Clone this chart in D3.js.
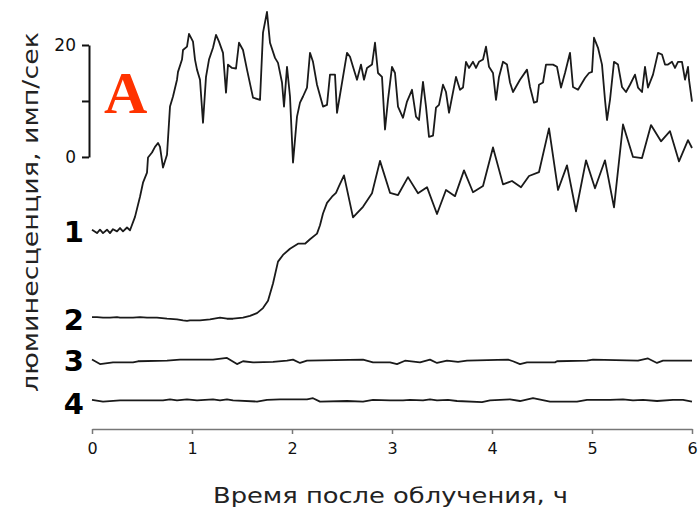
<!DOCTYPE html>
<html>
<head>
<meta charset="utf-8">
<script src="https://cdn.jsdelivr.net/npm/d3@7"></script>
<style>
  body { margin: 0; background: #fff; }
  text { font-family: "DejaVu Sans", Verdana, sans-serif; }
</style>
</head>
<body>
<script>
// Traces: [time (h), luminescence above own baseline (imp/s)]
const trace1 = [
  [0, 0], [0.05, -0.6], [0.08, 0], [0.11, -0.6], [0.15, 0], [0.18, -0.6], [0.21, 0.1],
  [0.25, -0.3], [0.28, 0.3], [0.31, -0.3], [0.35, 0.4], [0.38, -0.1], [0.43, 2.3],
  [0.48, 5.9], [0.51, 8.4], [0.55, 10.2], [0.56, 12.9], [0.6, 13.8], [0.63, 14.8],
  [0.66, 15.5], [0.68, 14.8], [0.71, 11.1], [0.75, 13.4], [0.78, 22.0], [0.81, 23.8],
  [0.85, 26.8], [0.86, 28.2], [0.9, 30.4], [0.91, 32.1], [0.95, 32.7], [0.97, 35.0],
  [1.01, 33.6], [1.03, 30.4], [1.05, 28.6], [1.08, 26.8], [1.11, 19.1], [1.14, 27.3],
  [1.17, 30.4], [1.21, 32.5], [1.24, 34.8], [1.27, 33.6], [1.31, 31.6], [1.34, 24.5],
  [1.36, 29.5], [1.4, 28.9], [1.44, 28.8], [1.47, 33.4], [1.51, 32.1], [1.55, 28.6],
  [1.61, 23.6], [1.68, 23.2], [1.71, 35.2], [1.75, 38.9], [1.78, 33.4], [1.83, 30.7],
  [1.86, 29.8], [1.9, 26.3], [1.92, 22.0], [1.95, 29.1], [1.98, 23.8], [2.01, 12.0],
  [2.05, 20.2], [2.08, 22.7], [2.11, 23.8], [2.15, 25.4], [2.18, 31.6], [2.21, 30.0],
  [2.25, 25.9], [2.31, 22.0], [2.35, 22.3], [2.38, 27.7], [2.43, 27.7], [2.45, 20.9],
  [2.55, 31.6], [2.58, 30.9], [2.61, 29.1], [2.65, 26.8], [2.69, 29.5], [2.72, 26.8],
  [2.75, 28.9], [2.8, 29.5], [2.83, 33.4], [2.86, 28.0], [2.9, 27.3], [2.93, 17.9],
  [2.96, 23.2], [3.0, 29.1], [3.03, 28.0], [3.06, 22.0], [3.11, 20.0], [3.15, 22.9],
  [3.2, 25.0], [3.24, 20.2], [3.27, 19.6], [3.31, 26.4], [3.34, 22.0], [3.37, 16.6],
  [3.41, 16.8], [3.44, 21.8], [3.47, 22.3], [3.51, 25.9], [3.54, 24.6], [3.57, 20.9],
  [3.64, 27.3], [3.68, 25.0], [3.71, 25.4], [3.74, 30.0], [3.77, 28.9], [3.81, 30.0],
  [3.84, 28.9], [3.87, 30.0], [3.91, 30.4], [3.94, 32.7], [3.97, 29.1], [4.01, 28.0],
  [4.04, 23.2], [4.07, 27.3], [4.11, 30.0], [4.15, 29.5], [4.18, 26.3], [4.21, 24.6],
  [4.28, 26.8], [4.35, 28.6], [4.38, 25.5], [4.42, 22.7], [4.45, 22.9], [4.47, 25.9],
  [4.51, 26.3], [4.54, 29.5], [4.61, 29.5], [4.65, 29.1], [4.69, 25.4], [4.73, 28.0],
  [4.78, 31.6], [4.81, 25.5], [4.86, 25.0], [4.93, 27.1], [4.97, 28.0], [5.0, 28.2],
  [5.02, 34.3], [5.06, 32.5], [5.1, 29.5], [5.13, 23.2], [5.15, 19.6], [5.18, 23.2],
  [5.22, 30.0], [5.26, 29.5], [5.3, 25.5], [5.34, 24.6], [5.38, 25.9], [5.43, 27.7],
  [5.46, 25.4], [5.5, 24.6], [5.53, 29.1], [5.56, 25.4], [5.61, 27.7], [5.66, 31.6],
  [5.7, 31.3], [5.73, 29.5], [5.76, 29.5], [5.8, 30.0], [5.83, 28.9], [5.86, 30.0],
  [5.9, 30.0], [5.93, 26.8], [5.96, 29.1], [5.97, 26.8], [6.0, 22.9]
];

const trace2 = [
  [0, 0.2], [0.05, 0.2], [0.11, 0.1], [0.18, 0.1], [0.25, 0.2], [0.28, 0.1], [0.35, 0.1],
  [0.41, 0.1], [0.48, 0.2], [0.55, 0.1], [0.65, 0.1], [0.75, -0.1], [0.85, -0.2],
  [0.91, -0.4], [0.95, -0.5], [0.98, -0.4], [1.08, -0.4], [1.18, -0.2], [1.28, 0.1],
  [1.35, -0.1], [1.41, -0.1], [1.51, 0.1], [1.58, 0.4], [1.65, 0.9], [1.71, 1.8],
  [1.76, 3.1], [1.81, 6.2], [1.86, 10.1], [1.91, 11.3], [1.98, 12.4], [2.06, 13.3],
  [2.13, 13.3], [2.18, 14.1], [2.25, 15.1], [2.28, 16.6], [2.31, 18.7], [2.35, 20.6],
  [2.4, 21.7], [2.44, 22.4], [2.47, 23.6], [2.52, 25.5], [2.61, 18.0], [2.71, 19.9],
  [2.8, 22.3], [2.88, 28.1], [2.98, 22.4], [3.06, 22.0], [3.16, 25.2], [3.26, 22.3],
  [3.35, 23.4], [3.45, 18.6], [3.54, 22.9], [3.63, 21.8], [3.72, 26.4], [3.81, 22.5],
  [3.91, 23.6], [4.01, 30.5], [4.11, 23.9], [4.2, 24.5], [4.29, 23.4], [4.37, 25.4],
  [4.47, 26.1], [4.57, 33.9], [4.66, 22.9], [4.75, 27.3], [4.84, 19.1], [4.94, 28.2],
  [5.03, 23.2], [5.13, 28.2], [5.22, 19.8], [5.31, 34.6], [5.41, 28.8], [5.5, 28.6],
  [5.59, 34.5], [5.69, 31.6], [5.78, 33.4], [5.87, 28.0], [5.96, 31.8], [6.0, 30.4]
];

const trace3 = [
  [0, 0.4], [0.08, -0.4], [0.21, -0.1], [0.41, -0.1], [0.46, 0.1], [0.75, 0.2], [0.88, 0.4],
  [1.21, 0.4], [1.35, 0.7], [1.45, -0.4], [1.51, 0.1], [1.61, -0.1], [1.81, 0], [1.95, 0.2],
  [2.01, 0.4], [2.08, -0.2], [2.15, 0.2], [2.71, 0.4], [2.81, -0.1], [2.98, -0.1],
  [3.05, -0.4], [3.13, 0.2], [3.28, -0.1], [3.38, 0.4], [3.45, -0.2], [3.55, 0.2],
  [3.66, 0], [3.75, 0.2], [4.16, 0.4], [4.21, 0.1], [4.28, -0.4], [4.35, -0.1],
  [4.63, -0.1], [4.65, 0.1], [4.95, 0.2], [5.01, 0.4], [5.46, 0.2], [5.56, 0.6],
  [5.65, -0.2], [5.71, 0.2], [6.0, 0.2]
];

const trace4 = [
  [0, 0.2], [0.11, -0.1], [0.28, 0.1], [0.71, 0.1], [0.78, 0.3], [0.85, 0.1], [0.95, 0.3],
  [1.05, 0.1], [1.21, 0.3], [1.28, 0.1], [1.35, 0.3], [1.41, 0.1], [1.65, -0.1], [1.75, 0.2],
  [1.88, 0.3], [2.15, 0.3], [2.21, 0.5], [2.28, -0.1], [2.55, 0], [2.71, -0.1], [2.81, 0.2],
  [2.98, 0.1], [3.11, 0.1], [3.18, 0.2], [3.31, 0.1], [3.38, 0.3], [3.45, 0.1], [3.56, 0.2],
  [3.65, 0], [3.9, -0.2], [3.98, 0.1], [4.18, 0.3], [4.28, 0], [4.41, 0.5], [4.58, -0.1],
  [4.85, -0.1], [4.95, 0.2], [5.18, 0.2], [5.31, 0.3], [5.41, 0.1], [5.51, 0.2], [5.65, 0],
  [5.81, 0.2], [5.91, 0.2], [6.0, -0.1]
];

const traces = [trace1, trace2, trace3, trace4];
const traceNames = ["1", "2", "3", "4"];
// vertical offset of each trace baseline, in imp/s relative to the scale-bar zero
const traceOffsets = [-13, -28.8, -36.6, -43.6];

const xTicks = [0, 1, 2, 3, 4, 5, 6];
const barTicks = [0, 10, 20];
const barLabels = ["0", "", "20"];

const width = 698;
const height = 509;

const svg = d3.select("body")
  .append("svg")
  .attr("width", width)
  .attr("height", height);

// Scales
const x = d3.scaleLinear().domain([0, 6]).range([92, 692]);
const y = d3.scaleLinear().domain([-48.6, 20]).range([429, 45]);

// X axis
const xAxis = svg.append("g")
  .attr("transform", `translate(0, ${y(-48.6)})`)
  .call(d3.axisBottom(x)
    .tickValues(xTicks)
    .tickFormat(d3.format("d"))
    .tickSize(5)
    .tickSizeOuter(0)
    .tickPadding(9));
xAxis.select(".domain").attr("stroke", "#777").attr("stroke-width", 1.5);
xAxis.selectAll(".tick line").attr("stroke", "#777").attr("stroke-width", 1.5);
xAxis.selectAll(".tick text")
  .style("font-size", "16px")
  .attr("fill", "#111");

// Scale bar (0..20 imp/s)
const barScale = d3.scaleLinear().domain([0, 20]).range([y(0), y(20)]);
const bar = svg.append("g")
  .attr("transform", "translate(89, 0)")
  .call(d3.axisLeft(barScale)
    .tickValues(barTicks)
    .tickFormat((d, i) => barLabels[i])
    .tickSize(7)
    .tickSizeOuter(0)
    .tickPadding(6));
bar.select(".domain").attr("stroke", "#111").attr("stroke-width", 2);
bar.selectAll(".tick line").attr("stroke", "#111").attr("stroke-width", 2);
bar.selectAll(".tick text")
  .style("font-size", "17px")
  .attr("fill", "#111");

// Traces
const line = d3.line()
  .x((d) => x(d[0]))
  .y((d) => d.y);

traces.forEach((tr, i) => {
  const pts = tr.map((d) => Object.assign([d[0], d[1]], { y: y(d[1] + traceOffsets[i]) }));
  svg.append("path")
    .datum(pts)
    .attr("fill", "none")
    .attr("stroke", "#1a1a1a")
    .attr("stroke-width", 1.8)
    .attr("stroke-linejoin", "round")
    .attr("d", line);
});

// Trace numbers
const labelBaselineShift = [12, 12, 9, 13];
svg.selectAll(".trace-label")
  .data(traceNames)
  .join("text")
  .attr("class", "trace-label")
  .attr("x", 84)
  .attr("y", (d, i) => y(traceOffsets[i]) + labelBaselineShift[i])
  .attr("text-anchor", "end")
  .style("font-size", "29px")
  .style("font-weight", "bold")
  .attr("fill", "#000")
  .text((d) => d);

// Panel letter
svg.append("text")
  .attr("x", 104)
  .attr("y", 113)
  .style("font-family", "'Liberation Serif', 'Times New Roman', serif")
  .style("font-size", "60px")
  .style("font-weight", "bold")
  .attr("fill", "#ff3300")
  .text("A");

// Axis titles (stretched to mimic the wide original face)
svg.append("text")
  .attr("x", 213)
  .attr("y", 503)
  .attr("textLength", 355)
  .attr("lengthAdjust", "spacingAndGlyphs")
  .style("font-size", "21px")
  .attr("fill", "#222")
  .text("Время после облучения, ч");

svg.append("text")
  .attr("transform", "translate(38, 392) rotate(-90)")
  .attr("textLength", 360)
  .attr("lengthAdjust", "spacingAndGlyphs")
  .style("font-size", "21px")
  .attr("fill", "#222")
  .text("люминесценция, имп/сек");
</script>
</body>
</html>
